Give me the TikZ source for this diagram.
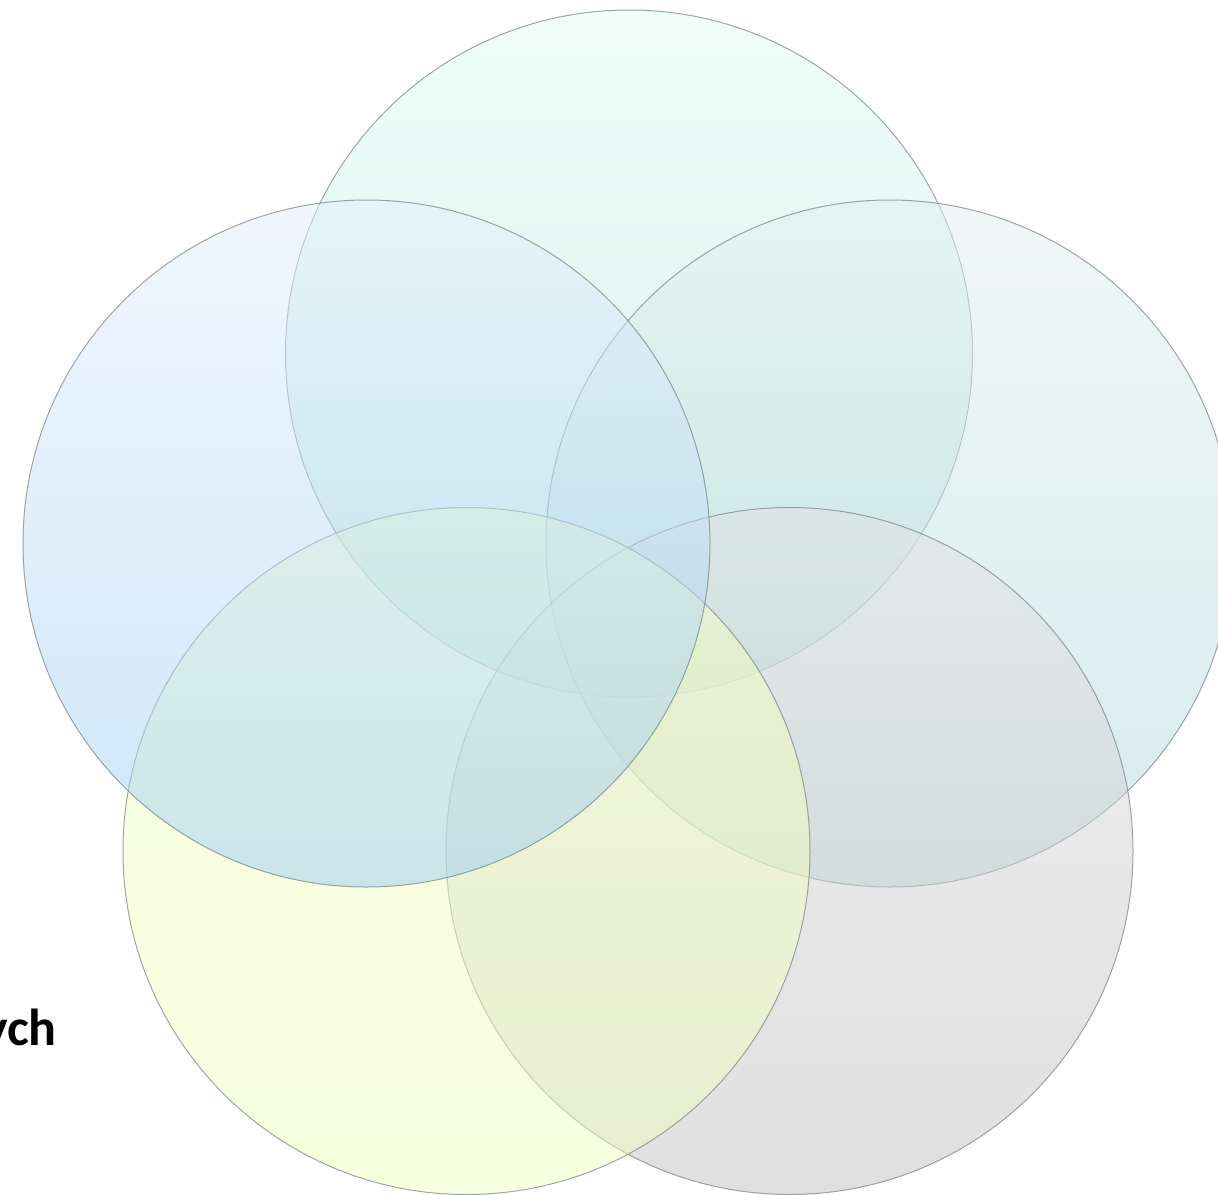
\documentclass[tikz,border=0pt]{standalone}
\usepackage{fontspec}
\newfontfamily\labelfont{Carlito}
\definecolor{topA}{RGB}{226,251,244}
\definecolor{topB}{RGB}{170,224,210}
\definecolor{leftA}{RGB}{227,239,253}
\definecolor{leftB}{RGB}{155,205,243}
\definecolor{rightA}{RGB}{225,239,239}
\definecolor{rightB}{RGB}{175,215,215}
\definecolor{blA}{RGB}{243,255,195}
\definecolor{blB}{RGB}{240,253,190}
\definecolor{brA}{RGB}{226,226,226}
\definecolor{brB}{RGB}{192,192,192}
\definecolor{edge}{RGB}{120,128,132}
\tikzset{
  venn/.style={circle, minimum size=687pt, inner sep=0pt, draw=edge, draw opacity=0.7, line width=1pt, fill opacity=0.5, shading=axis, shading angle=0},
}
\begin{document}
\begin{tikzpicture}[x=1pt,y=-1pt]
\useasboundingbox (0,0) rectangle (1218,1194);
\node[venn, top color=topA, bottom color=topB] (top) at (629,353.5) {};
\node[venn, top color=rightA, bottom color=rightB] (right) at (889.5,543.5) {};
\node[venn, top color=brA, bottom color=brB] (bright) at (789.5,851) {};
\node[venn, top color=blA, bottom color=blB] (bleft) at (466.5,851) {};
\node[venn, top color=leftA, bottom color=leftB] (left) at (366.5,543.5) {};
\node[anchor=base east, inner sep=0pt, font=\labelfont\bfseries\fontsize{52}{60}\selectfont] (lbl) at (57,1045) {ych};
\end{tikzpicture}
\end{document}
